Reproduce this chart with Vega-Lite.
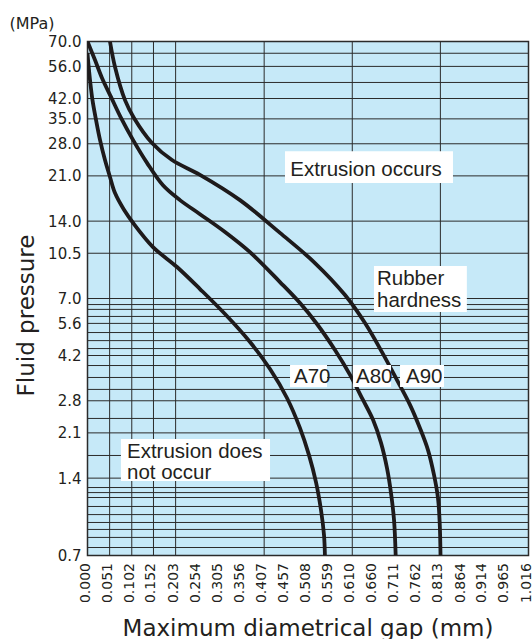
{
  "$schema": "https://vega.github.io/schema/vega-lite/v6.json",
  "width": 441,
  "height": 514,
  "autosize": {"type": "none"},
  "padding": {"left": 87.5, "top": 41.5, "right": 3.5, "bottom": 83.5},
  "background": "white",
  "title": {"text": "(MPa)", "anchor": "start", "frame": "group", "dx": -78, "dy": 19, "offset": 9, "baseline": "alphabetic", "font": "DejaVu Sans", "fontSize": 16, "fontWeight": "normal", "color": "#231f20"},
  "config": {
    "view": {"fill": "#c6e9f8", "stroke": "#2b2b2b", "strokeWidth": 1.5},
    "axisX": {"labelAngle": -90, "labelAlign": "right", "labelBaseline": "middle", "labelPadding": 7, "labelFontSize": 14, "labelOffset": -2.5,
      "titleX": 220, "titleY": 79.5, "titleBaseline": "alphabetic", "titleAlign": "center"},
    "axisY": {"labelPadding": 6.5, "labelFontSize": 15, "titleAngle": -90, "titleX": -54.5, "titleY": 273.5, "titleBaseline": "alphabetic", "titleAlign": "center"},
    "axis": {"labelFont": "DejaVu Sans", "labelColor": "#231f20", "ticks": false, "tickSize": 0, "domain": false, "grid": false,
      "labelOverlap": false, "labelFlush": false, "titleFont": "DejaVu Sans", "titleFontSize": 23, "titleFontWeight": "normal", "titleColor": "#231f20"}
  },
  "datasets": {
    "hgrid": [
      {"pressure": 70}, {"pressure": 63}, {"pressure": 56}, {"pressure": 48.5}, {"pressure": 42}, {"pressure": 35}, {"pressure": 28}, {"pressure": 21}, {"pressure": 14}, {"pressure": 10.5},
      {"pressure": 7}, {"pressure": 6.63}, {"pressure": 6.35}, {"pressure": 5.96}, {"pressure": 5.6}, {"pressure": 5.16}, {"pressure": 4.8}, {"pressure": 4.47}, {"pressure": 4.2}, {"pressure": 3.84}, {"pressure": 3.45}, {"pressure": 3.1}, {"pressure": 2.8}, {"pressure": 2.39}, {"pressure": 2.1}, {"pressure": 1.715},
      {"pressure": 1.4}, {"pressure": 1.287}, {"pressure": 1.23}, {"pressure": 1.177}, {"pressure": 1.086}, {"pressure": 1.01}, {"pressure": 0.941}, {"pressure": 0.884}, {"pressure": 0.823}, {"pressure": 0.752}, {"pressure": 0.7}
    ],
    "vgrid": [
      {"gap": 0}, {"gap": 0.051}, {"gap": 0.102}, {"gap": 0.152}, {"gap": 0.203}, {"gap": 0.407}, {"gap": 0.61}, {"gap": 0.813}, {"gap": 1.016}
    ],
    "curves": [
      {"rubber": "A70", "gap": 0, "pressure": 63.1},
      {"rubber": "A70", "gap": 0.0023, "pressure": 56.7},
      {"rubber": "A70", "gap": 0.0058, "pressure": 49.6},
      {"rubber": "A70", "gap": 0.0115, "pressure": 41.4},
      {"rubber": "A70", "gap": 0.0196, "pressure": 34.7},
      {"rubber": "A70", "gap": 0.0288, "pressure": 29.0},
      {"rubber": "A70", "gap": 0.0403, "pressure": 24.2},
      {"rubber": "A70", "gap": 0.0518, "pressure": 20.8},
      {"rubber": "A70", "gap": 0.0634, "pressure": 18.0},
      {"rubber": "A70", "gap": 0.0841, "pressure": 15.5},
      {"rubber": "A70", "gap": 0.1048, "pressure": 13.8},
      {"rubber": "A70", "gap": 0.1509, "pressure": 11.1},
      {"rubber": "A70", "gap": 0.2062, "pressure": 9.28},
      {"rubber": "A70", "gap": 0.2592, "pressure": 7.62},
      {"rubber": "A70", "gap": 0.3168, "pressure": 6.09},
      {"rubber": "A70", "gap": 0.3744, "pressure": 4.74},
      {"rubber": "A70", "gap": 0.4205, "pressure": 3.72},
      {"rubber": "A70", "gap": 0.4596, "pressure": 2.87},
      {"rubber": "A70", "gap": 0.4896, "pressure": 2.19},
      {"rubber": "A70", "gap": 0.5103, "pressure": 1.72},
      {"rubber": "A70", "gap": 0.5264, "pressure": 1.35},
      {"rubber": "A70", "gap": 0.538, "pressure": 1.05},
      {"rubber": "A70", "gap": 0.5449, "pressure": 0.84},
      {"rubber": "A70", "gap": 0.547, "pressure": 0.7},
      {"rubber": "A80", "gap": 0, "pressure": 70},
      {"rubber": "A80", "gap": 0.0173, "pressure": 59.3},
      {"rubber": "A80", "gap": 0.0334, "pressure": 50.5},
      {"rubber": "A80", "gap": 0.0541, "pressure": 42.6},
      {"rubber": "A80", "gap": 0.0772, "pressure": 35.3},
      {"rubber": "A80", "gap": 0.1048, "pressure": 29.0},
      {"rubber": "A80", "gap": 0.1371, "pressure": 23.6},
      {"rubber": "A80", "gap": 0.1739, "pressure": 19.3},
      {"rubber": "A80", "gap": 0.2131, "pressure": 16.9},
      {"rubber": "A80", "gap": 0.2592, "pressure": 14.9},
      {"rubber": "A80", "gap": 0.3168, "pressure": 12.7},
      {"rubber": "A80", "gap": 0.3744, "pressure": 10.6},
      {"rubber": "A80", "gap": 0.4435, "pressure": 8.11},
      {"rubber": "A80", "gap": 0.4896, "pressure": 6.72},
      {"rubber": "A80", "gap": 0.5287, "pressure": 5.57},
      {"rubber": "A80", "gap": 0.5702, "pressure": 4.41},
      {"rubber": "A80", "gap": 0.6048, "pressure": 3.53},
      {"rubber": "A80", "gap": 0.6347, "pressure": 2.82},
      {"rubber": "A80", "gap": 0.6578, "pressure": 2.36},
      {"rubber": "A80", "gap": 0.6762, "pressure": 1.92},
      {"rubber": "A80", "gap": 0.69, "pressure": 1.53},
      {"rubber": "A80", "gap": 0.6992, "pressure": 1.225},
      {"rubber": "A80", "gap": 0.7062, "pressure": 0.962},
      {"rubber": "A80", "gap": 0.71, "pressure": 0.7},
      {"rubber": "A90", "gap": 0.0518, "pressure": 70},
      {"rubber": "A90", "gap": 0.0634, "pressure": 55.7},
      {"rubber": "A90", "gap": 0.0864, "pressure": 41.4},
      {"rubber": "A90", "gap": 0.1071, "pressure": 35.3},
      {"rubber": "A90", "gap": 0.1486, "pressure": 28.2},
      {"rubber": "A90", "gap": 0.1947, "pressure": 24.2},
      {"rubber": "A90", "gap": 0.2592, "pressure": 21.2},
      {"rubber": "A90", "gap": 0.3513, "pressure": 16.9},
      {"rubber": "A90", "gap": 0.4435, "pressure": 12.6},
      {"rubber": "A90", "gap": 0.5241, "pressure": 9.62},
      {"rubber": "A90", "gap": 0.5933, "pressure": 7.22},
      {"rubber": "A90", "gap": 0.6393, "pressure": 5.62},
      {"rubber": "A90", "gap": 0.6785, "pressure": 4.33},
      {"rubber": "A90", "gap": 0.7131, "pressure": 3.37},
      {"rubber": "A90", "gap": 0.743, "pressure": 2.7},
      {"rubber": "A90", "gap": 0.766, "pressure": 2.19},
      {"rubber": "A90", "gap": 0.7845, "pressure": 1.8},
      {"rubber": "A90", "gap": 0.7983, "pressure": 1.44},
      {"rubber": "A90", "gap": 0.8075, "pressure": 1.17},
      {"rubber": "A90", "gap": 0.8115, "pressure": 0.93},
      {"rubber": "A90", "gap": 0.8133, "pressure": 0.7}
    ],
    "notes": [
      {"label": "Extrusion occurs", "x1": 0.455, "x2": 0.842, "y1": 26.2, "y2": 19.7, "tx": 0.467, "ty": 21.0},
      {"label": "Rubber\nhardness", "x1": 0.66, "x2": 0.874, "y1": 9.37, "y2": 6.2, "tx": 0.667, "ty": 7.9},
      {"label": "Extrusion does\nnot occur", "x1": 0.077, "x2": 0.4205, "y1": 1.99, "y2": 1.365, "tx": 0.091, "ty": 1.677},
      {"label": "A70", "x1": 0.4666, "x2": 0.5518, "y1": 3.86, "y2": 3.17, "tx": 0.4757, "ty": 3.27},
      {"label": "A80", "x1": 0.6117, "x2": 0.6993, "y1": 3.86, "y2": 3.17, "tx": 0.6186, "ty": 3.27},
      {"label": "A90", "x1": 0.72, "x2": 0.8213, "y1": 3.86, "y2": 3.17, "tx": 0.7338, "ty": 3.27}
    ]
  },
  "layer": [
    {
      "data": {"name": "hgrid"},
      "mark": {"type": "rule", "color": "#2b2b2b", "strokeWidth": 1},
      "encoding": {
        "y": {"field": "pressure", "type": "quantitative", "scale": {"type": "log", "domain": [0.7, 70], "nice": false},
          "axis": {"values": [0.7, 1.4, 2.1, 2.8, 4.2, 5.6, 7, 10.5, 14, 21, 28, 35, 42, 56, 70], "format": ".1f", "title": "Fluid pressure"}}
      }
    },
    {
      "data": {"name": "vgrid"},
      "mark": {"type": "rule", "color": "#2b2b2b", "strokeWidth": 1},
      "encoding": {
        "x": {"field": "gap", "type": "quantitative", "scale": {"domain": [0, 1.016], "nice": false, "zero": false},
          "axis": {"values": [0, 0.051, 0.102, 0.152, 0.203, 0.254, 0.305, 0.356, 0.407, 0.457, 0.508, 0.559, 0.61, 0.66, 0.711, 0.762, 0.813, 0.864, 0.914, 0.965, 1.016], "format": ".3f", "title": "Maximum diametrical gap (mm)"}}
      }
    },
    {
      "data": {"name": "curves"},
      "mark": {"type": "line", "color": "#1e1a1b", "strokeWidth": 3.8, "interpolate": "catmull-rom", "clip": true},
      "encoding": {
        "x": {"field": "gap", "type": "quantitative", "scale": {"domain": [0, 1.016], "nice": false, "zero": false},
          "axis": {"values": [0, 0.051, 0.102, 0.152, 0.203, 0.254, 0.305, 0.356, 0.407, 0.457, 0.508, 0.559, 0.61, 0.66, 0.711, 0.762, 0.813, 0.864, 0.914, 0.965, 1.016], "format": ".3f", "title": "Maximum diametrical gap (mm)"}},
        "y": {"field": "pressure", "type": "quantitative", "scale": {"type": "log", "domain": [0.7, 70], "nice": false},
          "axis": {"values": [0.7, 1.4, 2.1, 2.8, 4.2, 5.6, 7, 10.5, 14, 21, 28, 35, 42, 56, 70], "format": ".1f", "title": "Fluid pressure"}},
        "detail": {"field": "rubber", "type": "nominal"}
      }
    },
    {
      "data": {"name": "notes"},
      "mark": {"type": "rect", "fill": "white"},
      "encoding": {
        "x": {"field": "x1", "type": "quantitative", "scale": {"domain": [0, 1.016], "nice": false, "zero": false},
          "axis": {"values": [0, 0.051, 0.102, 0.152, 0.203, 0.254, 0.305, 0.356, 0.407, 0.457, 0.508, 0.559, 0.61, 0.66, 0.711, 0.762, 0.813, 0.864, 0.914, 0.965, 1.016], "format": ".3f", "title": "Maximum diametrical gap (mm)"}},
        "x2": {"field": "x2"},
        "y": {"field": "y1", "type": "quantitative", "scale": {"type": "log", "domain": [0.7, 70], "nice": false},
          "axis": {"values": [0.7, 1.4, 2.1, 2.8, 4.2, 5.6, 7, 10.5, 14, 21, 28, 35, 42, 56, 70], "format": ".1f", "title": "Fluid pressure"}},
        "y2": {"field": "y2"}
      }
    },
    {
      "data": {"name": "notes"},
      "mark": {"type": "text", "align": "left", "baseline": "alphabetic", "font": "Liberation Sans", "fontSize": 20.5, "color": "#231f20", "lineBreak": "\n", "lineHeight": 21.5},
      "encoding": {
        "x": {"field": "tx", "type": "quantitative", "scale": {"domain": [0, 1.016], "nice": false, "zero": false},
          "axis": {"values": [0, 0.051, 0.102, 0.152, 0.203, 0.254, 0.305, 0.356, 0.407, 0.457, 0.508, 0.559, 0.61, 0.66, 0.711, 0.762, 0.813, 0.864, 0.914, 0.965, 1.016], "format": ".3f", "title": "Maximum diametrical gap (mm)"}},
        "y": {"field": "ty", "type": "quantitative", "scale": {"type": "log", "domain": [0.7, 70], "nice": false},
          "axis": {"values": [0.7, 1.4, 2.1, 2.8, 4.2, 5.6, 7, 10.5, 14, 21, 28, 35, 42, 56, 70], "format": ".1f", "title": "Fluid pressure"}},
        "text": {"field": "label"}
      }
    }
  ]
}
